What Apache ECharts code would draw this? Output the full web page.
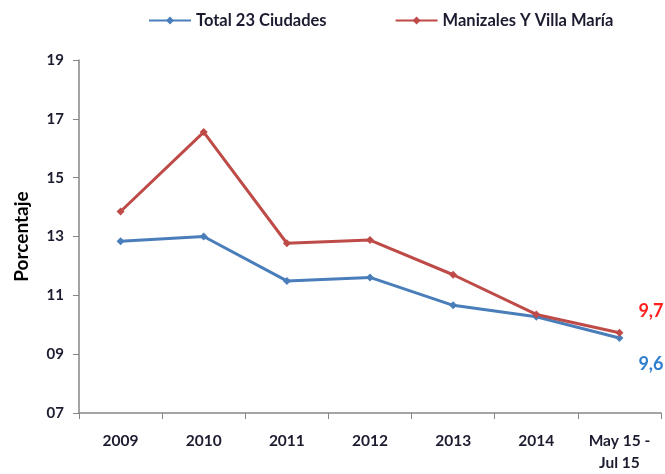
<!DOCTYPE html>
<html>
<head>
<meta charset="utf-8">
<script src="https://cdn.jsdelivr.net/npm/echarts@6/dist/echarts.min.js"></script>
<style>
  html, body { margin: 0; padding: 0; background: #fff; }
  #main { width: 665px; height: 474px; }
</style>
</head>
<body>
<div id="main"></div>
<script>
// datos
var categorias = ['2009', '2010', '2011', '2012', '2013', '2014', 'May 15 -\nJul 15'];
var total23 = [12.84, 13.0, 11.49, 11.61, 10.66, 10.27, 9.55];
var manizales = [13.85, 16.55, 12.77, 12.88, 11.7, 10.35, 9.73];
var etiquetasFinales = ['9,6', '9,7'];

var azul = '#4a7ebb';
var rojo = '#be4b48';
var textoOscuro = '#1c1c30';
var fuente = 'Lato, "Open Sans", sans-serif';

function finalLabel(texto, color, offset) {
  return {
    show: true,
    position: 'right',
    offset: offset,
    formatter: function (p) {
      return p.dataIndex === categorias.length - 1 ? texto : '';
    },
    color: color,
    fontSize: 18,
    fontWeight: 'bold',
    fontFamily: fuente
  };
}

var chartDom = document.getElementById('main');
var myChart = echarts.init(chartDom);
var option = {
  animation: false,
  legend: {
    top: 7,
    left: 143,
    itemGap: 68,
    itemWidth: 42,
    itemHeight: 10,
    textStyle: { color: textoOscuro, fontSize: 16.5, fontWeight: 'bold', fontFamily: fuente },
    data: ['Total 23 Ciudades', 'Manizales Y Villa María']
  },
  grid: { left: 79, right: 4, top: 60, bottom: 58 },
  xAxis: {
    type: 'category',
    data: categorias,
    boundaryGap: true,
    axisLine: { lineStyle: { color: '#868686', width: 1.5 } },
    axisTick: { show: true, length: 6, lineStyle: { color: '#868686' } },
    axisLabel: {
      color: textoOscuro, fontSize: 15.5, fontWeight: 'bold', fontFamily: fuente,
      margin: 17, lineHeight: 22
    }
  },
  yAxis: {
    type: 'value',
    min: 7,
    max: 19,
    interval: 2,
    name: 'Porcentaje',
    nameLocation: 'middle',
    nameGap: 48,
    nameRotate: 90,
    nameTextStyle: { color: '#000', fontSize: 19, fontWeight: 'bold', fontFamily: fuente },
    splitLine: { show: false },
    axisLine: { show: true, lineStyle: { color: '#868686', width: 1.5 } },
    axisTick: { show: true, length: 6, lineStyle: { color: '#868686' } },
    axisLabel: {
      color: textoOscuro, fontSize: 15, fontWeight: 'bold', fontFamily: fuente, margin: 15,
      formatter: function (v) { return v < 10 ? '0' + v : '' + v; }
    }
  },
  series: [
    {
      name: 'Total 23 Ciudades',
      type: 'line',
      data: total23,
      symbol: 'diamond',
      symbolSize: 8,
      lineStyle: { color: azul, width: 3 },
      itemStyle: { color: azul },
      label: finalLabel(etiquetasFinales[0], '#2f7fcf', [10, 26])
    },
    {
      name: 'Manizales Y Villa María',
      type: 'line',
      data: manizales,
      symbol: 'diamond',
      symbolSize: 8,
      lineStyle: { color: rojo, width: 3 },
      itemStyle: { color: rojo },
      label: finalLabel(etiquetasFinales[1], '#ff1f1f', [10, -22])
    }
  ]
};
myChart.setOption(option);
</script>
</body>
</html>
